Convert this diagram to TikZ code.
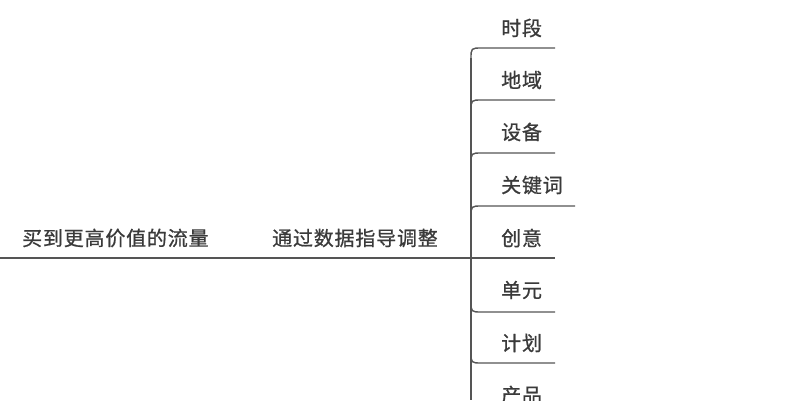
\documentclass[tikz,border=0pt]{standalone}
\usepackage{fontspec}
\setmainfont{Noto Sans CJK SC}[LetterSpace=4,FakeBold=0.8]
\definecolor{txt}{HTML}{3A3A3A}
\definecolor{ln}{HTML}{555555}
\begin{document}
\begin{tikzpicture}[x=1pt,y=-1pt,
  lbl/.style={anchor=west,inner sep=0pt,text=txt,font=\fontsize{20}{20}\selectfont},
  link/.style={draw=ln,line width=1.4pt}]
\useasboundingbox (0,0) rectangle (803,400);
% main texts
\node[lbl] (m1) at (22,238) {买到更高价值的流量};
\node[lbl] (m2) at (272,238) {通过数据指导调整};
% hub
\coordinate (root) at (0,258);
\coordinate (hub) at (471,258);
\coordinate (vtop) at (471,58);
\coordinate (vbot) at (471,400);
\draw[link] (root) -- (hub) -- (555,258);
\draw[link] (vtop) -- (vbot);
% items
\foreach \n/\t/\yc/\yu/\xe [count=\i] in {
  a/时段/28/48/555, b/地域/80/100/555, c/设备/132/153/555,
  d/关键词/185/206/575, f/单元/290/312/555, g/计划/343/363/555,
  h/产品/395/415/555}{
  \node[lbl] (t\n) at (501,\yc) {\t};
  \coordinate (s\n) at (471,\yu);
  \coordinate (e\n) at (\xe,\yu);
}
\node[lbl] (te) at (501,238) {创意};
\foreach \n in {a,b,c,d}{
  \draw[link] ([yshift=-11pt]s\n) .. controls (s\n) .. ([xshift=11pt]s\n) -- (e\n);
}
\foreach \n in {f,g,h}{
  \draw[link] ([yshift=11pt]s\n) .. controls (s\n) .. ([xshift=11pt]s\n) -- (e\n);
}
\end{tikzpicture}
\end{document}
